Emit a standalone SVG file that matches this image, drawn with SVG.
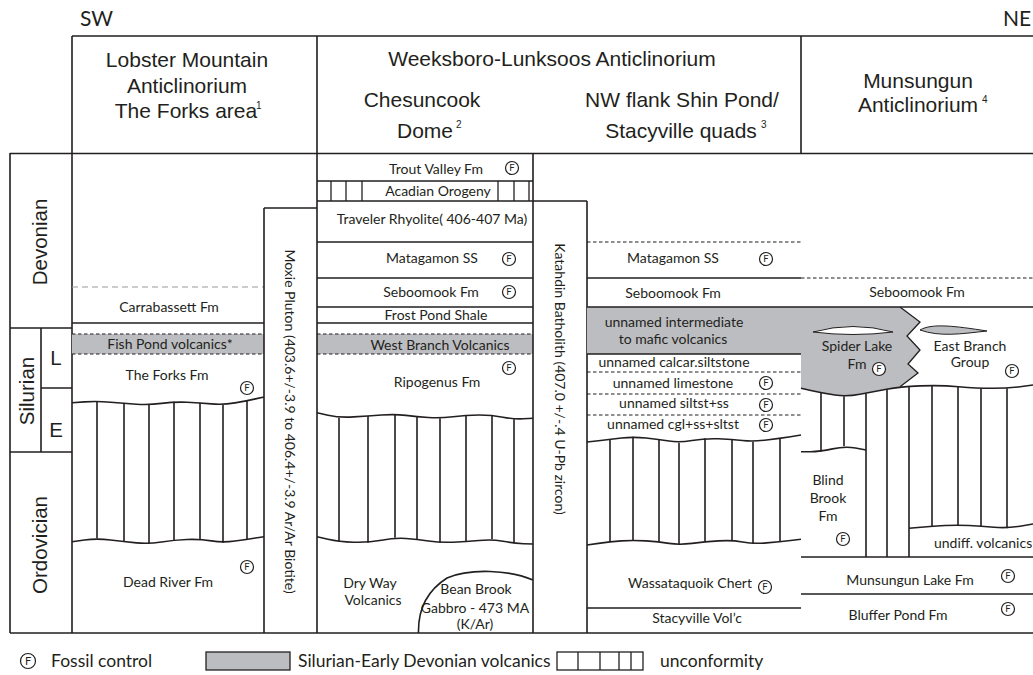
<svg xmlns="http://www.w3.org/2000/svg" width="1033" height="675" viewBox="0 0 1033 675">
<style>
.ln{stroke:#231f20;stroke-width:1.6;fill:none}
.th{stroke:#231f20;stroke-width:1.3;fill:none}
.dsh{stroke:#231f20;stroke-width:1.2;stroke-dasharray:3.5 2.5;fill:none}
.gdsh{stroke:#9a9a9a;stroke-width:1.2;stroke-dasharray:6 4;fill:none}
.gray{fill:#bcbdc0}
.hd{font-family:"Liberation Sans",Arial,sans-serif;font-size:21px;fill:#231f20;text-anchor:middle}
.sup{font-family:"Liberation Sans",Arial,sans-serif;font-size:10px;fill:#231f20}
.dir{font-family:Lato,"Noto Sans",sans-serif;font-size:21px;fill:#231f20}
.age{font-family:"Liberation Sans",Arial,sans-serif;font-size:20.5px;fill:#231f20;text-anchor:middle}
.t{font-family:Lato,"Noto Sans",sans-serif;font-size:14px;fill:#231f20;text-anchor:middle}
.ts{font-family:Lato,"Noto Sans",sans-serif;font-size:14px;fill:#231f20}
.f{fill:#fff;stroke:#231f20;stroke-width:1.2}
.ft{font-family:Lato,"Noto Sans",sans-serif;font-size:9.5px;fill:#231f20;text-anchor:middle}
.lg{font-family:Lato,"Noto Sans",sans-serif;font-size:17.5px;fill:#231f20}
</style>

<g id="header">
  <path class="ln" d="M72,36 H1033 M72,36 V153 M317,36 V153 M801,36 V153"/>
  <text class="dir" x="80" y="26">SW</text>
  <text class="dir" x="1003" y="26">NE</text>
  <text class="hd" x="187" y="67">Lobster Mountain</text>
  <text class="hd" x="187" y="93">Anticlinorium</text>
  <text class="hd" x="186" y="118">The Forks area</text>
  <text class="sup" x="256" y="109">1</text>
  <text class="hd" x="552" y="66">Weeksboro-Lunksoos Anticlinorium</text>
  <text class="hd" x="422" y="107">Chesuncook</text>
  <text class="hd" x="425" y="138">Dome</text>
  <text class="sup" x="456" y="128">2</text>
  <text class="hd" x="682" y="107">NW flank Shin Pond/</text>
  <text class="hd" x="681" y="138">Stacyville quads</text>
  <text class="sup" x="761" y="128">3</text>
  <text class="hd" x="918" y="88">Munsungun</text>
  <text class="hd" x="918" y="112">Anticlinorium</text>
  <text class="sup" x="982" y="103">4</text>
</g>

<g id="age-column">
  <path class="ln" d="M10,153.5 H1033 M10,633 H1033 M10,153 V633 M72,153 V633 M10,328 H72 M10,452 H72 M41,328 V452 M41,388 H72"/>
  <text class="age" transform="translate(47,242) rotate(-90)">Devonian</text>
  <text class="age" transform="translate(34,391) rotate(-90)">Silurian</text>
  <text class="age" transform="translate(47,545) rotate(-90)">Ordovician</text>
  <text class="age" x="56" y="365">L</text>
  <text class="age" x="56" y="437">E</text>
</g>

<g id="lobster-column">
  <rect class="gray" x="72" y="334" width="192" height="20"/>
  <path class="gdsh" d="M72,287 H264"/>
  <path class="ln" d="M72,323 H264"/>
  <path class="dsh" d="M72,334 H264 M72,354 H264"/>
  <path class="ln" d="M72,402.7 L84.5,401.9 Q97,401 110.5,402.2 Q124,403.3 136.5,404.2 Q149,405 161.5,403.4 Q174,401.7 187,402.2 Q200,402.7 211.5,403.9 Q223,405 235,402.9 Q247,400.7 255.5,398.9 L264,397"/>
  <path class="ln" d="M72,541.7 L84.5,540 Q97,538.3 110.5,540 Q124,541.7 136.5,542.9 Q149,544 161.5,542 Q174,540 187,539.5 Q200,539 211.5,540.9 Q223,542.7 235,541 Q247,539.3 255.5,538 L264,536.7"/>
  <path class="ln" d="M97,401 V538.3 M124,403.3 V541.7 M149,405 V544 M174,401.7 V540 M200,402.7 V539 M223,405 V542.7 M247,400.7 V539.3"/>
  <text class="t" x="169" y="312">Carrabassett Fm</text>
  <text class="t" x="170" y="349">Fish Pond volcanics*</text>
  <text class="t" x="167" y="380">The Forks Fm</text>
  <text class="t" x="168" y="587">Dead River Fm</text>
  <circle class="f" cx="247" cy="388" r="6.5"/><text class="ft" x="247" y="391.4">F</text>
  <circle class="f" cx="247" cy="567" r="6.5"/><text class="ft" x="247" y="570.4">F</text>
</g>

<g id="moxie-pluton">
  <path class="ln" d="M264,208 H317 M264,208 V633"/>
  <text class="t" transform="translate(285,421.5) rotate(90)">Moxie Pluton (403.6+/-3.9 to 406.4+/-3.9 Ar/Ar Biotite)</text>
</g>

<g id="chesuncook-column">
  <rect class="gray" x="317" y="334" width="216" height="20"/>
  <path class="ln" d="M317,153 V633 M533,153 V633 M317,181 H533 M317,201 H533 M317,242 H533 M317,278 H533 M317,307 H533 M317,323 H533"/>
  <path class="th" d="M331,181 V201 M346,181 V201 M362,181 V201 M498,181 V201 M514,181 V201 M529,181 V201"/>
  <path class="dsh" d="M317,334 H533 M317,354 H533"/>
  <path class="ln" d="M317,412.7 L328,415.2 Q339,417.7 353.5,416.9 Q368,416 381.5,415 Q395,414 406,415.4 Q417,416.7 428.5,417.5 Q440,418.3 453,416.7 Q466,415 479,415 Q492,415 503,417.2 Q514,419.3 523.5,418.8 L533,418.3"/>
  <path class="ln" d="M317,536.7 L328,539.2 Q339,541.7 353.5,542.2 Q368,542.7 381.5,540.2 Q395,537.7 406,538.5 Q417,539.3 428.5,541 Q440,542.7 453,542.2 Q466,541.7 479,540.5 Q492,539.3 503,541.3 Q514,543.3 523.5,543.7 L533,544"/>
  <path class="ln" d="M339,417.7 V541.7 M368,416 V542.7 M395,414 V537.7 M417,416.7 V539.3 M440,418.3 V542.7 M466,415 V541.7 M492,415 V539.3 M514,419.3 V543.3"/>
  <path class="ln" d="M418.5,633 C418,612 425,592 447,578 C470,568 510,570 533,580"/>
  <text class="t" x="436" y="174">Trout Valley Fm</text>
  <text class="t" x="438" y="196">Acadian Orogeny</text>
  <text class="t" x="432" y="224">Traveler Rhyolite( 406-407 Ma)</text>
  <text class="t" x="432" y="263">Matagamon SS</text>
  <text class="t" x="431" y="297">Seboomook Fm</text>
  <text class="t" x="436" y="320">Frost Pond Shale</text>
  <text class="t" x="440" y="350">West Branch Volcanics</text>
  <text class="t" x="437" y="387">Ripogenus Fm</text>
  <text class="t" x="370" y="588">Dry Way</text>
  <text class="t" x="373" y="605">Volcanics</text>
  <text class="t" x="476" y="594">Bean Brook</text>
  <text class="t" x="475" y="613">Gabbro - 473 MA</text>
  <text class="t" x="475" y="629">(K/Ar)</text>
  <circle class="f" cx="512" cy="168" r="6.5"/><text class="ft" x="512" y="171.4">F</text>
  <circle class="f" cx="509" cy="259" r="6.5"/><text class="ft" x="509" y="262.4">F</text>
  <circle class="f" cx="509" cy="292" r="6.5"/><text class="ft" x="509" y="295.4">F</text>
  <circle class="f" cx="509" cy="368" r="6.5"/><text class="ft" x="509" y="371.4">F</text>
</g>

<g id="katahdin-batholith">
  <path class="ln" d="M533,201 H587 M587,201 V633"/>
  <text class="t" transform="translate(555,379) rotate(90)">Katahdin Batholith (407.0 +/-.4 U-Pb zircon)</text>
</g>

<g id="shin-pond-column">
  <rect class="gray" x="587" y="307" width="214" height="47"/>
  <path class="dsh" d="M587,242 H801"/>
  <path class="ln" d="M587,278 H801 M587,307 H801 M587,354 H801 M587,608 H801"/>
  <path class="dsh" d="M587,372 H801 M587,394 H801 M587,415 H801"/>
  <path class="ln" d="M587,442 L598.5,440.7 Q610,439.3 621.5,438 Q633,436.7 646,438 Q659,439.3 669,441 Q679,442.7 692,440.5 Q705,438.3 718.5,438.8 Q732,439.3 742.5,440.5 Q753,441.7 766.5,440 Q780,438.3 790.5,436.7 L801,435"/>
  <path class="ln" d="M587,545 L598.5,543.4 Q610,541.7 621.5,540.9 Q633,540 646,540.9 Q659,541.7 669,543.4 Q679,545 692,543.4 Q705,541.7 718.5,540.9 Q732,540 742.5,542 Q753,544 766.5,542.9 Q780,541.7 790.5,540.5 L801,539.3"/>
  <path class="ln" d="M610,439.3 V541.7 M633,436.7 V540 M659,439.3 V541.7 M679,442.7 V545 M705,438.3 V541.7 M732,439.3 V540 M753,441.7 V544 M780,438.3 V541.7"/>
  <text class="t" x="673" y="263">Matagamon SS</text>
  <text class="t" x="673" y="298">Seboomook Fm</text>
  <text class="t" x="674" y="327">unnamed intermediate</text>
  <text class="t" x="673" y="344">to mafic volcanics</text>
  <text class="t" x="674" y="367">unnamed calcar.siltstone</text>
  <text class="t" x="673" y="388">unnamed limestone</text>
  <text class="t" x="674" y="408">unnamed siltst+ss</text>
  <text class="t" x="673" y="429">unnamed cgl+ss+sltst</text>
  <text class="t" x="690" y="588">Wassataquoik Chert</text>
  <text class="t" x="697" y="623">Stacyville Vol’c</text>
  <circle class="f" cx="766" cy="259" r="6.5"/><text class="ft" x="766" y="262.4">F</text>
  <circle class="f" cx="766" cy="383" r="6.5"/><text class="ft" x="766" y="386.4">F</text>
  <circle class="f" cx="766" cy="405" r="6.5"/><text class="ft" x="766" y="408.4">F</text>
  <circle class="f" cx="766" cy="425" r="6.5"/><text class="ft" x="766" y="428.4">F</text>
  <circle class="f" cx="765" cy="587" r="6.5"/><text class="ft" x="765" y="590.4">F</text>
</g>

<g id="munsungun-column">
  <path class="gray" d="M801,307 H900 L920,322 L907,336 L920,350 L908,364 L918,373 L900,386.7 L886.5,389.2 Q873,391.7 860,394.2 Q847,396.7 835,395 Q823,393.3 812,390.8 L801,388.3 Z"/>
  <path class="th" d="M900,307 L920,322 L907,336 L920,350 L908,364 L918,373 L900,386.7"/>
  <path d="M813,332 Q853,321 893,332 Q853,337 813,332 Z" fill="#fff" stroke="#231f20" stroke-width="1"/>
  <path d="M920,330 C932,323 955,326 987,331 C960,334 940,337 920,330 Z" fill="#bcbdc0" stroke="#231f20" stroke-width="1"/>
  <path class="dsh" d="M801,278 H1033"/>
  <path class="ln" d="M801,307 H1033 M801,557 H1033 M801,594 H1033"/>
  <path class="ln" d="M801,388.3 L812,390.8 Q823,393.3 835,395 Q847,396.7 860,394.2 Q873,391.7 886.5,389.2 Q900,386.7 920,385.9 Q940,385 958.5,386.7 Q977,388.3 992,388.3 Q1007,388.3 1020,386.7 L1033,385"/>
  <path class="ln" d="M801,451.7 L810.5,451.7 Q820,451.7 832.5,448.9 Q845,446 855.5,448 L866,450"/>
  <path class="ln" d="M909,528.3 L921,527.2 Q933,526 945,525.5 Q957,525 969,525.5 Q981,526 994,527.2 Q1007,528.3 1020,526.2 L1033,524"/>
  <path class="ln" d="M821,393 V451.7 M844,396.3 V446.2 M866,393.5 V557 M887,389.3 V557 M909,386.4 V557 M932,385.6 V526 M958,386.5 V525 M981,388.3 V526 M1007,388.3 V528.3"/>
  <text class="t" x="917" y="297">Seboomook Fm</text>
  <text class="t" x="857" y="351">Spider Lake</text>
  <text class="t" x="857" y="369">Fm</text>
  <text class="t" x="970" y="351">East Branch</text>
  <text class="t" x="970" y="367">Group</text>
  <text class="t" x="828" y="485">Blind</text>
  <text class="t" x="828" y="503">Brook</text>
  <text class="t" x="828" y="521">Fm</text>
  <text class="ts" x="934" y="548">undiff. volcanics</text>
  <text class="t" x="910" y="585">Munsungun Lake Fm</text>
  <text class="t" x="898" y="620">Bluffer Pond Fm</text>
  <circle class="f" cx="879" cy="369" r="6.5"/><text class="ft" x="879" y="372.4">F</text>
  <circle class="f" cx="1012" cy="371" r="6.5"/><text class="ft" x="1012" y="374.4">F</text>
  <circle class="f" cx="843" cy="539" r="6.5"/><text class="ft" x="843" y="542.4">F</text>
  <circle class="f" cx="1008" cy="576" r="6.5"/><text class="ft" x="1008" y="579.4">F</text>
  <circle class="f" cx="1008" cy="609" r="6.5"/><text class="ft" x="1008" y="612.4">F</text>
</g>

<g id="connectors"></g>

<g id="legend">
  <circle class="f" cx="28" cy="661" r="7.5"/><text class="ft" x="28" y="665" style="font-size:11px">F</text>
  <text class="lg" x="51" y="667">Fossil control</text>
  <rect class="gray" x="206" y="652" width="84" height="18" stroke="#231f20" stroke-width="1.3"/>
  <text class="lg" x="298" y="667">Silurian-Early Devonian volcanics</text>
  <rect x="557" y="652" width="86" height="18" fill="#fff" stroke="#231f20" stroke-width="1.3"/>
  <path class="th" d="M578,652 V670 M600,652 V670 M619,652 V670 M631,652 V670"/>
  <text class="lg" x="660" y="667">unconformity</text>
</g>
</svg>
